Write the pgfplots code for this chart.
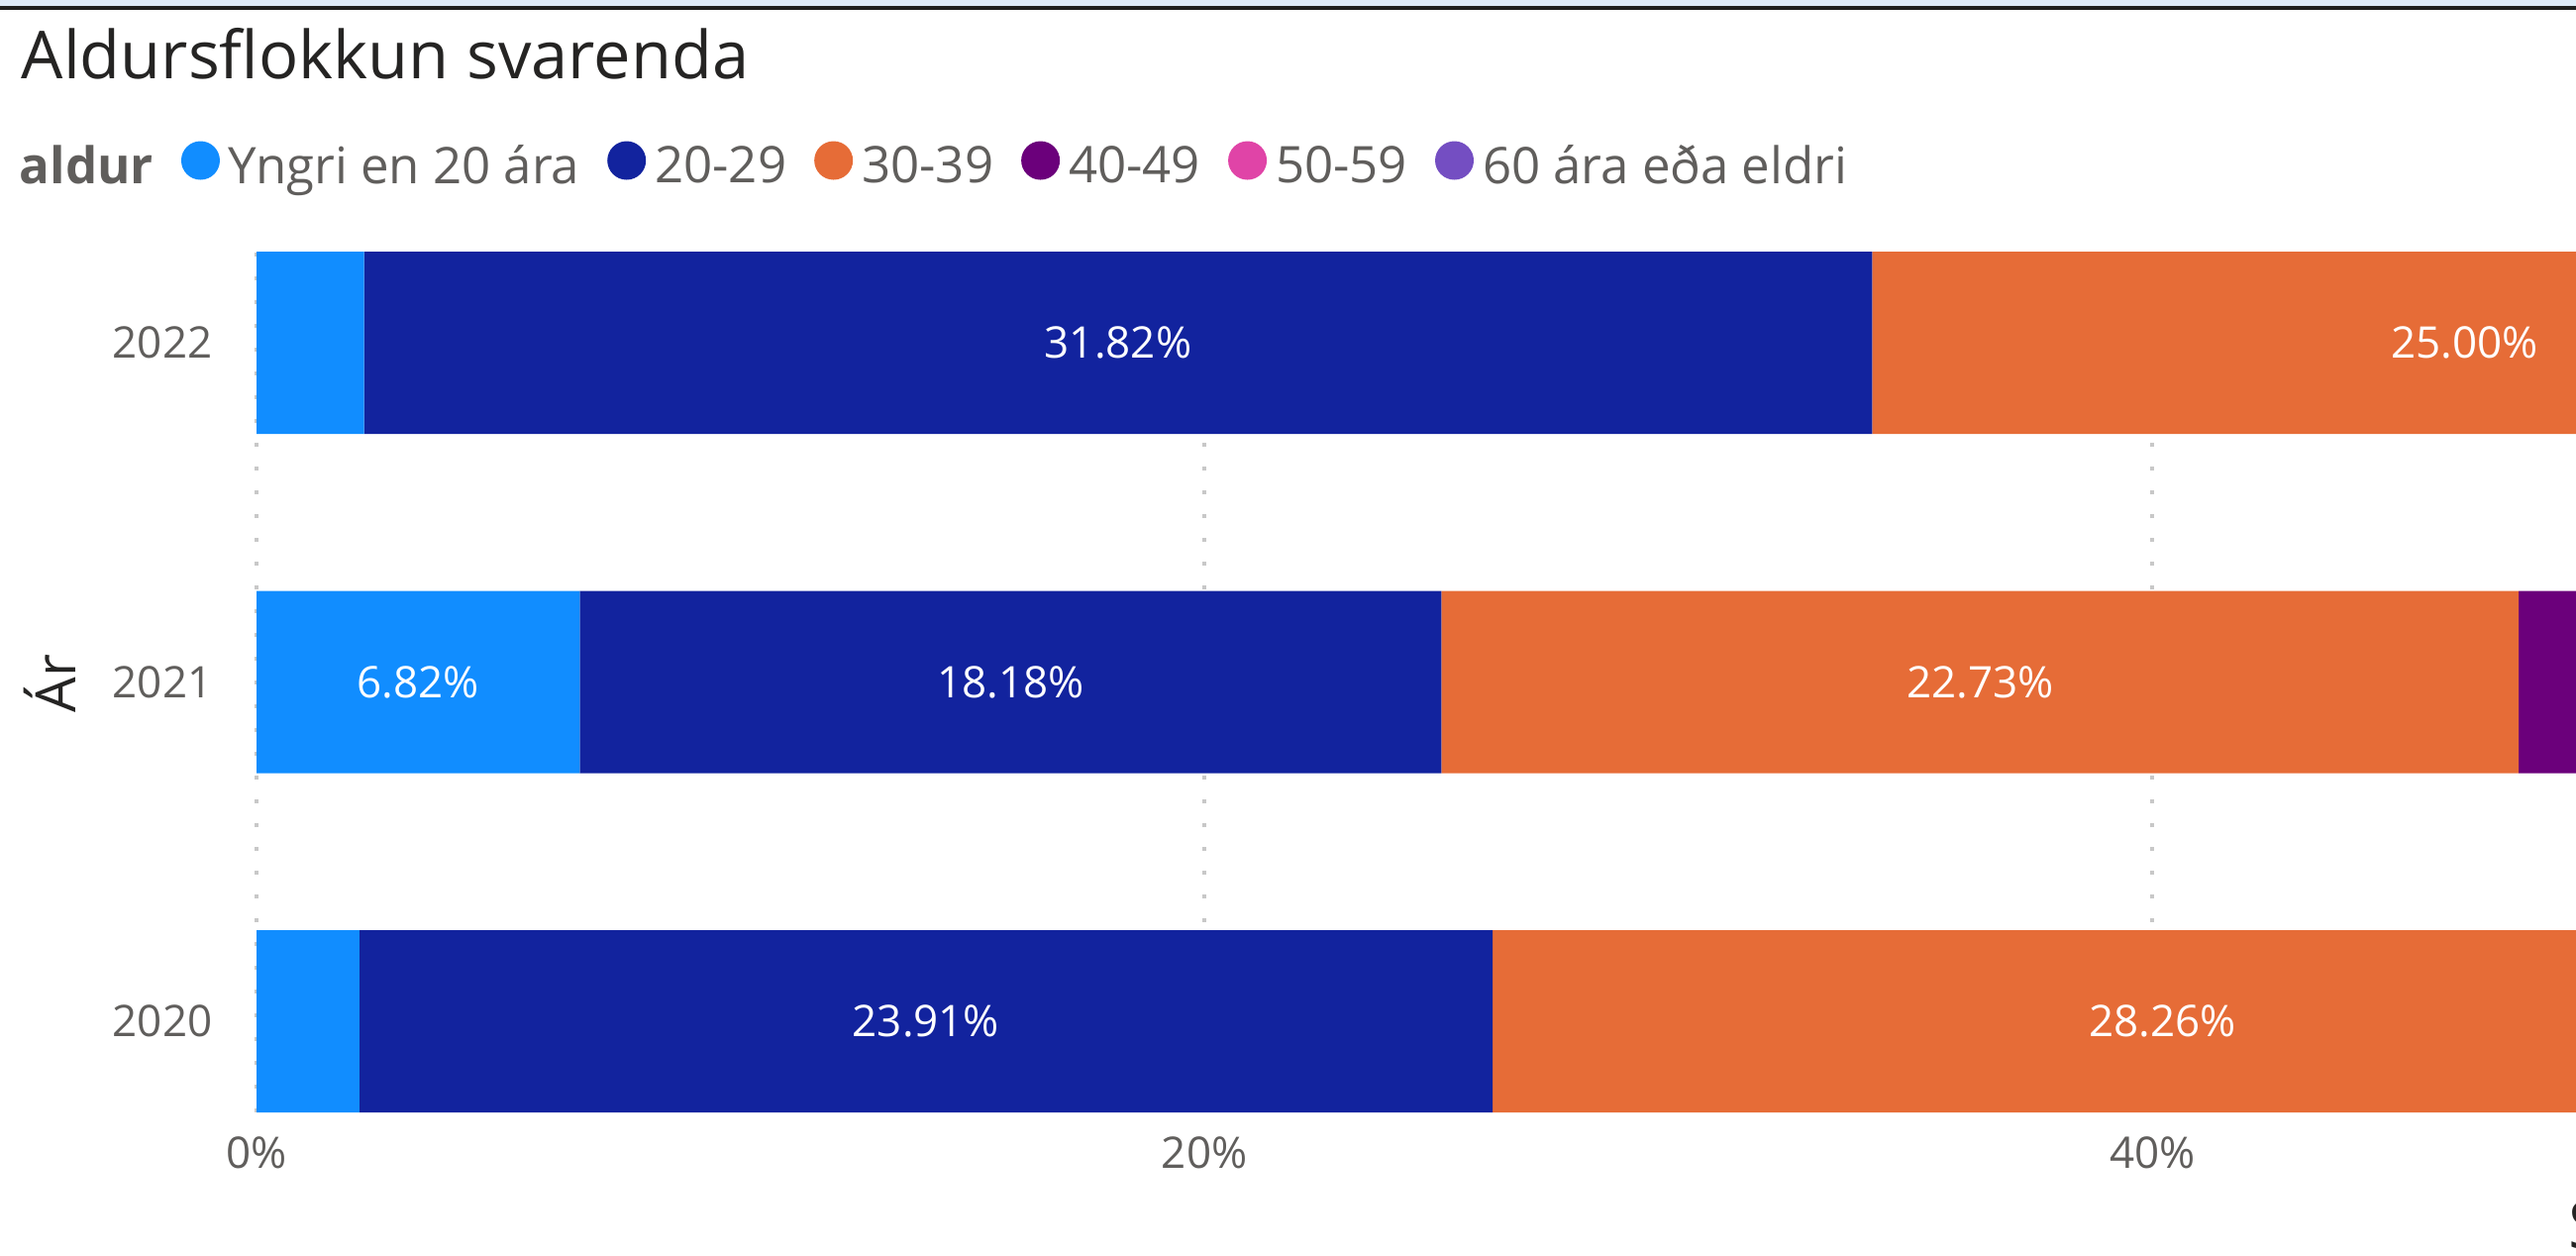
\documentclass[border=0pt]{standalone}
\usepackage{fontspec}
\setmainfont{Open Sans}
\usepackage{pgfplots}
\usepackage{pgfplotstable}
\pgfplotsset{compat=1.18}

\definecolor{cYngri}{HTML}{118DFF}
\definecolor{cTwenty}{HTML}{12239E}
\definecolor{cThirty}{HTML}{E66C37}
\definecolor{cForty}{HTML}{6B007B}
\definecolor{cFifty}{HTML}{E044A7}
\definecolor{cSixty}{HTML}{744EC2}
\definecolor{textgray}{HTML}{605E5C}
\definecolor{titlegray}{HTML}{252423}
\definecolor{gridgray}{HTML}{C8C8C8}
\definecolor{bandblue}{HTML}{DEEBF9}

% share of respondents per age group, percent (yr: 0=2020, 1=2021, 2=2022)
\pgfplotstableread{
yr  yngri  a20    a30    a40    a50    a60
0   2.17   23.91  28.26  19.57  17.39  8.70
1   6.82   18.18  22.73  22.73  20.45  9.09
2   2.27   31.82  25.00  18.18  15.91  6.82
}\shares

% labelled segments: where the segment starts, and its value
\pgfplotstableread{
yr  start  val
0   2.17   23.91
0   26.08  28.26
1   0      6.82
1   6.82   18.18
1   25.00  22.73
2   2.27   31.82
2   34.09  25.00
}\barlabels

\pgfplotsset{
  chartframe/.style={
    scale only axis, width=23.42cm, height=8.69cm,
    at={(2.59cm,-11.23cm)}, anchor=south west,
    xmin=0, xmax=48.94, ymin=-0.2686, ymax=2.2686,
  },
  /pgf/number format/assume math mode=true,
}

\begin{document}
\begin{tikzpicture}
\path[use as bounding box] (0,0) rectangle (26.01,-12.67);
\clip (0,0) rectangle (26.01,-12.67);
\fill[bandblue] (0,0) rectangle (26.01,-0.06);
\fill[black!88] (0,-0.06) rectangle (26.01,-0.10);

\begin{axis}[chartframe,
  xbar stacked, bar width=1.84cm,
  axis line style={draw=none}, major tick length=0pt,
  xtick={0,20,40}, xticklabel={\pgfmathprintnumber{\tick}\%},
  ytick={0,1,2}, yticklabels={2020,2021,2022},
  tick label style={font=\fontsize{12.5}{15}\selectfont, text=textgray, inner sep=0pt},
  yticklabel style={xshift=-0.44cm},
  xticklabel style={yshift=-0.24cm},
  xmajorgrids,
  major grid style={gridgray, line width=0.04cm, dash pattern=on 0.04cm off 0.20cm},
  title={Aldursflokkun svarenda},
  title style={at={(axis description cs:-0.1016,1.177)}, anchor=base west,
    yshift=0pt, inner sep=0pt, font=\fontsize{19}{22}\selectfont, text=titlegray},
  ylabel={Ár},
  ylabel style={at={(axis description cs:-0.0892,0.498)}, anchor=center,
    inner sep=0pt, font=\fontsize{16}{19}\selectfont, text=titlegray},
  xlabel={Svarendur},
  xlabel style={at={(axis description cs:1,0)}, anchor=north west,
    inner sep=0pt, xshift=-0.08cm, yshift=-0.86cm,
    font=\fontsize{19}{22}\selectfont, text=titlegray},
  legend image code/.code={\fill[#1] (0.195cm,0.07cm) circle (0.195cm);},
  legend style={draw=none, fill=none, inner sep=0pt,
    at={(axis description cs:-0.1063,1.1003)}, anchor=west,
    legend columns=-1, font=\fontsize{14.5}{17}\selectfont, text=textgray,
    nodes={inner sep=0pt},
    /tikz/every odd column/.append style={column sep=0.09cm},
    /tikz/every even column/.append style={column sep=0.28cm}},
]
\addlegendimage{empty legend}
\addlegendentry{\textbf{aldur}}
\addplot[fill=cYngri, draw=none] table[x=yngri, y=yr] {\shares};
\addlegendentry{Yngri en 20 ára}
\addplot[fill=cTwenty, draw=none] table[x=a20, y=yr] {\shares};
\addlegendentry{20-29}
\addplot[fill=cThirty, draw=none] table[x=a30, y=yr] {\shares};
\addlegendentry{30-39}
\addplot[fill=cForty, draw=none] table[x=a40, y=yr] {\shares};
\addlegendentry{40-49}
\addplot[fill=cFifty, draw=none] table[x=a50, y=yr] {\shares};
\addlegendentry{50-59}
\addplot[fill=cSixty, draw=none] table[x=a60, y=yr] {\shares};
\addlegendentry{60 ára eða eldri}
\end{axis}

% value labels, centred on their segments
\begin{axis}[chartframe, hide axis,
  point meta=explicit,
  nodes near coords={\pgfmathprintnumber[fixed, fixed zerofill, precision=2]{\pgfplotspointmeta}\%},
  every node near coord/.append style={anchor=center, inner sep=0pt, text=white,
    font=\fontsize{12.5}{15}\selectfont},
]
\addplot[draw=none, mark=none]
  table[x expr=\thisrow{start}+\thisrow{val}/2, y=yr, meta=val] {\barlabels};
\end{axis}
\end{tikzpicture}
\end{document}
